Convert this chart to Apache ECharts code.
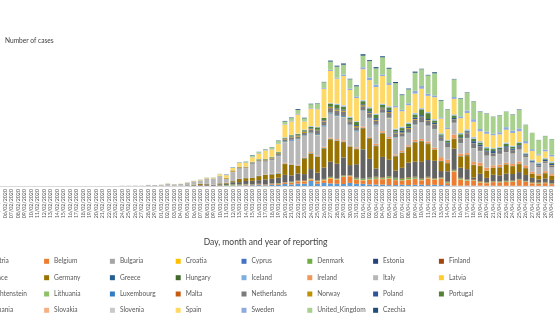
<!DOCTYPE html>
<html><head><meta charset="utf-8">
<script src="https://cdn.jsdelivr.net/npm/echarts@6/dist/echarts.min.js"></script>
<style>html,body{margin:0;padding:0;overflow:hidden;background:#fff;width:555px;height:331px}
#c{position:absolute;left:-300px;top:0;width:855px;height:331px}</style>
</head><body><div id="c"></div>
<script>
// Dates from 31/12/2019 to 30/04/2020; values below start on 24/02/2020 (earlier days read as zero)
const firstDate = '31/12/2019', lastDate = '30/04/2020', dataStart = '24/02/2020';
const countries = ['Austria','Belgium','Bulgaria','Croatia','Cyprus','Denmark','Estonia','Finland','France','Germany','Greece','Hungary','Iceland','Ireland','Italy','Latvia','Liechtenstein','Lithuania','Luxembourg','Malta','Netherlands','Norway','Poland','Portugal','Romania','Slovakia','Slovenia','Spain','Sweden','United_Kingdom','Czechia'];
const colors = ['#5B9BD5','#ED7D31','#A5A5A5','#FFC000','#4472C4','#70AD47','#264478','#9E480E','#636363','#997300','#255E91','#43682B','#7CAFDD','#F1975A','#B7B7B7','#FFCD33','#698ED0','#8CC168','#327DC2','#C55A11','#7B7B7B','#BF9000','#2F5597','#548235','#9DC3E6','#F4B183','#C9C9C9','#FFD966','#8FAADC','#A9D18E','#1F4E79'];

const austria = [0,0,2,0,1,0, 5,4,8,6,11,14,24,25,27,51, 64,115,115,152,205,240,165,346,314,543, 398,640,594,1321,606,805,668,564,522,805, 558, 564,418,395,349,241,250,314,247,302,343, 241,312,247,214,106,85,90,77,76,72, 78,51,58,63,50,41,44,55,28,41];
const belgium = [0,0,0,0,0,0, 0,1,0,5,15,27,59,60,31,39, 28,47,85,160,130,197,172,185,243,309, 462,558,586,342,526,668,1298,1049,1850,1702, 1063, 876,1189,1384,1422,1661,1260,1123,1380,1500,1120, 1684,1351,1629,530,3634,1550,1236,1329,800,650, 933,900,973,1032,1496,1032,647,553,701,450];
const bulgaria = [0,0,0,0,0,0, 0,0,0,0,0,0,0,0,4,0, 0,2,1,16,8,10,16,12,13,11, 36,19,36,22,21,22,22,25,27,40, 23, 40,14,37,36,27,18,46,32,26,36, 38,24,25,27,49,36,52,33,49,29, 44,48,29,52,31,37,46,27,26,35];
const croatia = [0,0,0,1,2,0, 0,0,2,1,0,1,1,1,2,0, 2,5,6,11,10,13,8,16,24,24, 35,52,55,77,75,68,87,91,71,67, 76, 77,96,64,57,67,40,41,69,43,52, 56,38,33,54,56,41,53,30,31,22, 9,16,34,17,11,17,21,13,7,14];
const cyprus = [0,0,0,0,0,0, 0,0,0,0,0,0,0,0,2,0, 4,0,0,8,14,6,13,13,4,17, 9,28,14,16,8,28,16,17,6,35, 34, 20,58,0,43,26,19,10,20,39,20, 27,13,17,21,14,20,20,11,5,11, 5,12,9,6,15,9,6,7,0,2];
const denmark = [0,0,0,0,1,0, 0,2,1,2,5,10,3,8,10,55, 172,252,160,127,55,23,34,70,96,42, 119,43,47,104,125,143,183,129,211,94, 273, 272,257,370,245,371,392,312,390,331,219, 184,178,179,178,197,235,170,147,142,130, 137,168,187,170,123,109,128,175,154,140];
const estonia = [0,0,0,0,0,0, 0,0,0,0,1,4,4,3,0,0, 3,11,0,17,57,62,50,57,28,43, 37,26,71,20,20,35,23,36,51,31, 40, 27,49,24,27,54,35,28,20,48,36, 31,22,26,16,33,28,28,18,16,32, 21,22,14,5,8,7,23,8,17,6];
const finland = [0,0,0,1,0,0, 0,1,3,1,1,6,4,0,3,10, 14,49,44,42,40,48,21,57,37,40, 50,50,131,49,79,88,80,65,75,63, 91, 59,108,167,143,101,131,160,142,147,159, 143,109,116,105,115,134,97,180,138,78, 81,63,60,126,106,81,137,154,132,80];
const france = [0,2,2,4,20,19, 43,30,61,21,73,138,190,336,177,286, 372,497,595,785,838,924,1210,1097,1404,1861, 1617,1847,1559,2446,2000,2929,3922,3809,4611,2599, 3500, 7578,4861,2116,5233,4267,1873,2700,3777,3881,4286, 4342,4500,1613,2673,5497,2633,2641,405,1909,1101, 1606,1500,1827,1653,1773,1537,1065,700,900,800];
const germany = [0,0,0,1,8,5, 41,22,31,38,66,138,284,163,55,237, 157,271,802,693,733,1043,1174,1144,1042,2801, 2705,1948,4062,4000,4118,4954,5780,5900,3965,4751, 3900, 5453,5300,5800,6082,5400,3677,3834,4003,4974,5323, 4133,2821,2537,2082,2486,2866,3380,3200,2000,1775, 1785,2000,2352,2000,2055,1737,1018,950,1304,1100];
const greece = [0,0,1,2,0,4, 0,0,0,3,22,13,0,28,7,16, 6,10,9,38,80,93,28,56,80,52, 46,27,94,71,52,78,73,71,95,63, 102, 58,60,129,72,41,62,25,71,62,33, 74,20,30,15,25,23,12,23,26,14, 19,56,6,11,19,16,20,12,14,3];
const hungary = [0,0,0,0,0,0, 0,0,0,0,2,2,3,4,1,3, 3,3,4,6,5,7,11,19,8,15, 12,18,56,25,39,35,78,35,43,61, 37, 55,60,38,85,55,73,81,47,74,100, 110,111,44,49,86,111,210,78,69,74, 48,62,98,69,114,53,38,68,74,39];
const iceland = [0,0,0,0,0,0, 0,0,0,9,10,14,7,5,2,0, 30,24,11,22,27,38,51,49,84,79, 117,64,35,95,60,89,65,84,54,27, 69, 59,60,31,25,35,70,80,55,32,23, 18,18,14,17,10,12,12,6,4,6, 7,13,3,6,5,0,1,3,1,0];
const ireland = [0,0,0,0,0,1, 0,0,0,1,5,2,5,5,3,3, 10,9,27,20,40,41,81,72,112,183, 126,191,121,219,204,235,255,302,294,200, 295, 325,212,402,424,390,331,365,345,500,480, 500,430,992,832,1068,657,548,709,778,779, 597,632,388,500,577,701,506,360,500,376];
const italy = [73,77,93,78,250,238, 240,561,347,466,587,769,778,1247,1492,1797, 977,2313,2651,2547,3497,3590,3233,3526,4207,5322, 5986,6557,5560,4789,5249,5210,6153,5959,5974,5217, 4050, 4053,4782,4668,4585,4805,4316,3599,3039,3836,4204, 3951,4694,4092,3153,2972,2667,3786,3493,3000,3047, 2256,2729,2700,2646,3021,2030,2324,1739,2091,1700];
const latvia = [0,0,0,0,0,0, 0,0,1,0,0,0,0,1,1,5, 2,3,7,9,9,12,26,11,26,25, 13,28,41,17,24,24,59,22,40,4, 29, 30,27,48,41,51,12,25,6,34,23, 5,25,7,13,11,7,9,26,19,9, 19,10,13,24,6,11,8,8,11,7];
const liechtenstein = [0,0,0,0,0,0, 0,0,1,0,0,0,0,0,0,0, 0,0,0,0,0,3,0,3,7,9, 0,10,8,0,5,7,0,8,4,3, 2, 0,0,8,0,0,0,1,1,2,1, 0,0,0,1,0,1,0,0,0,0, 0,0,0,0,0,0,0,0,0,0];
const lithuania = [0,0,0,0,1,0, 0,0,0,0,0,0,0,0,0,1, 0,0,3,2,2,4,12,9,8,41, 12,33,25,62,38,45,59,48,81,23, 48, 46,48,41,43,69,55,48,73,75,19, 75,77,46,32,28,39,93,53,29,44, 37,36,36,32,38,55,24,30,12,15];
const luxembourg = [0,0,0,0,0,1, 0,0,0,0,1,1,1,0,0,2, 3,6,12,12,43,46,59,63,130,152, 214,132,138,145,186,240,224,183,210,137, 217, 93,111,224,136,56,106,82,146,94,78, 73,67,64,37,47,32,37,38,32,13, 21,23,16,17,12,14,19,4,14,14];
const malta = [0,0,0,0,0,0, 0,0,0,0,0,0,3,0,0,3, 1,3,6,6,4,7,3,8,5,5, 14,9,17,30,9,15,10,5,12,17, 12, 17,7,11,9,11,6,28,20,8,14, 14,11,22,9,12,7,11,5,9,3, 12,17,6,8,10,4,1,9,14,5];
const netherlands = [0,0,0,0,1,1, 5,8,6,5,14,44,46,60,77,56, 61,121,190,155,176,278,292,346,409,534, 637,573,545,811,852,1019,1172,1159,1104,884, 845, 1019,1083,1026,904,1224,952,777,969,1213,1335, 1316,1174,964,868,734,1061,1235,1140,1066,964, 750,729,1066,887,655,400,171,400,386,514];
const norway = [0,0,0,0,1,0, 14,3,8,6,20,56,47,32,29,60, 212,271,183,106,125,151,199,182,219,168, 187,269,268,243,159,232,271,330,292,236, 293, 262,206,192,191,252,194,220,201,178,121, 120,91,111,64,121,131,159,81,73,64, 63,123,80,67,83,38,46,77,85,100];
const poland = [0,0,0,0,0,0, 0,0,0,0,1,0,4,6,6,5, 9,18,20,17,42,36,27,48,70,102, 111,100,115,152,150,158,180,249,224,193, 256, 243,392,437,244,475,311,435,357,370,380, 270,318,260,268,380,311,336,545,461,263, 545,313,381,335,357,314,262,306,388,303];
const portugal = [0,0,0,0,0,0, 0,0,2,2,3,4,8,9,9,11, 18,19,47,34,57,86,117,117,194,143, 235,260,320,302,633,549,724,902,792,446, 800, 808,783,852,638,754,452,712,699,815,1516, 1516,598,349,514,643,750,181,657,521,629, 516,371,603,444,595,163,92,173,183,295];
const romania = [0,0,0,1,2,0, 0,0,0,0,2,6,0,4,6,0, 10,4,41,22,37,48,16,30,60,93, 59,66,143,186,144,62,123,263,308,293, 190, 250,245,279,338,258,214,296,354,357,291, 268,318,265,170,263,327,309,430,386,332, 260,294,353,298,241,240,249,302,258,333];
const slovakia = [0,0,0,0,0,0, 0,0,0,0,0,0,1,4,2,0, 0,14,12,11,12,9,9,25,50,17, 13,41,27,13,12,22,23,24,48,23, 22, 27,36,50,21,37,51,47,21,36,18, 19,32,24,44,76,28,38,52,57,12, 30,16,7,3,5,6,5,2,1,7];
const slovenia = [0,0,0,0,0,0, 0,0,0,0,1,6,1,4,9,9, 23,16,55,58,52,17,22,23,13,34, 27,48,42,28,31,33,60,64,80,57, 38, 54,49,19,35,34,43,32,36,23,28, 12,6,7,30,14,20,22,11,9,16, 13,9,3,4,9,8,12,1,3,5];
const spain = [0,0,4,7,8,13, 13,39,36,45,57,37,124,151,176,400, 622,582,869,900,1159,1407,2144,1884,2000,3308, 3494,4900,2076,4517,4500,7457,8271,6500,7516,6875, 6000, 7967,7000,6900,7134,5500,5478,4000,4467,5000,5002, 4200,5700,3804,2768,3942,3800,4200,3900,2500,3400, 3300,3200,3300,3300,2800,2400,2200,1800,1700,1300];
const sweden = [0,0,0,6,1,5, 0,2,2,1,36,24,41,32,46,55, 180,159,113,152,116,140,91,113,156,143, 160,197,116,167,89,238,312,240,401,328, 407, 512,621,612,407,466,390,376,487,726,722, 544,466,332,465,497,482,613,676,606,563, 392,545,682,600,751,610,463,286,450,400];
const unitedKingdom = [0,0,0,2,3,4, 3,13,4,11,34,30,48,43,67,48, 52,83,134,208,342,251,152,407,676,643, 714,1035,665,967,1427,1452,2129,2885,2546,2433, 2619, 3009,4324,4244,4450,3735,5903,3802,3634,4700,4344, 4750,5750,4342,4550,4603,4617,4640,4600,4400,4600, 4400,4301,4000,4100,4800,4200,4200,3700,3500,4076];
const czechia = [0,0,0,0,0,0, 0,3,0,2,0,7,7,7,6,9, 31,25,22,36,116,45,84,89,95,142, 139,210,165,130,91,104,244,235,321,142, 258, 367,228,309,277,235,291,179,200,285,123, 153,267,157,105,95,120,104,75,118,93, 53,94,52,99,115,47,31,47,56,48];

const values = [austria,belgium,bulgaria,croatia,cyprus,denmark,estonia,finland,france,germany,greece,hungary,iceland,ireland,italy,latvia,liechtenstein,lithuania,luxembourg,malta,netherlands,norway,poland,portugal,romania,slovakia,slovenia,spain,sweden,unitedKingdom,czechia];

function parse(s){const p=s.split('/');return Date.UTC(+p[2],+p[1]-1,+p[0]);}
const days=[];
for(let t=parse(firstDate);t<=parse(lastDate);t+=86400000){const d=new Date(t);days.push(String(d.getUTCDate()).padStart(2,'0')+'/'+String(d.getUTCMonth()+1).padStart(2,'0')+'/'+d.getUTCFullYear());}
const lead = days.indexOf(dataStart);

const series = countries.map((name,i)=>({
  name, type:'bar', stack:'all', barCategoryGap:'25%',
  itemStyle:{color:colors[i]}, emphasis:{disabled:true},
  data: new Array(lead).fill(0).concat(values[i])
}));

const rowY=[262.3,278.7,295,311.3];
const legends = countries.map((name,i)=>({
  data:[name], orient:'horizontal', left:278.3+(i%8)*65.8, top:rowY[Math.floor(i/8)]-4.5,
  itemWidth:5, itemHeight:5, icon:'rect', padding:0, selectedMode:false,
  textStyle:{fontSize:6.6, color:'#595959', fontFamily:'Lato'}
}));

const chart = echarts.init(document.getElementById('c'),null,{renderer:'canvas'});
chart.setOption({
  animation:false,
  color:colors,
  grid:{left:61,right:0,top:32,bottom:145,containLabel:false},
  legend:legends,
  xAxis:{type:'category',data:days,
    axisLine:{lineStyle:{color:'#D9D9D9',width:1}},
    axisTick:{show:false},
    axisLabel:{interval:0,rotate:90,fontSize:5.3,color:'#595959',margin:3,fontFamily:'Lato'}},
  yAxis:{type:'value',min:0,max:40000,show:false,splitLine:{show:false}},
  graphic:[
    {type:'text',left:305,top:37,style:{text:'Number of cases',fontSize:6.6,fill:'#404040',fontFamily:'Lato'}},
    {type:'text',x:565.5,y:242,style:{text:'Day, month and year of reporting',fontSize:8.5,fill:'#404040',fontFamily:'Lato',align:'center',verticalAlign:'middle'}}
  ],
  series
});
</script></body></html>
